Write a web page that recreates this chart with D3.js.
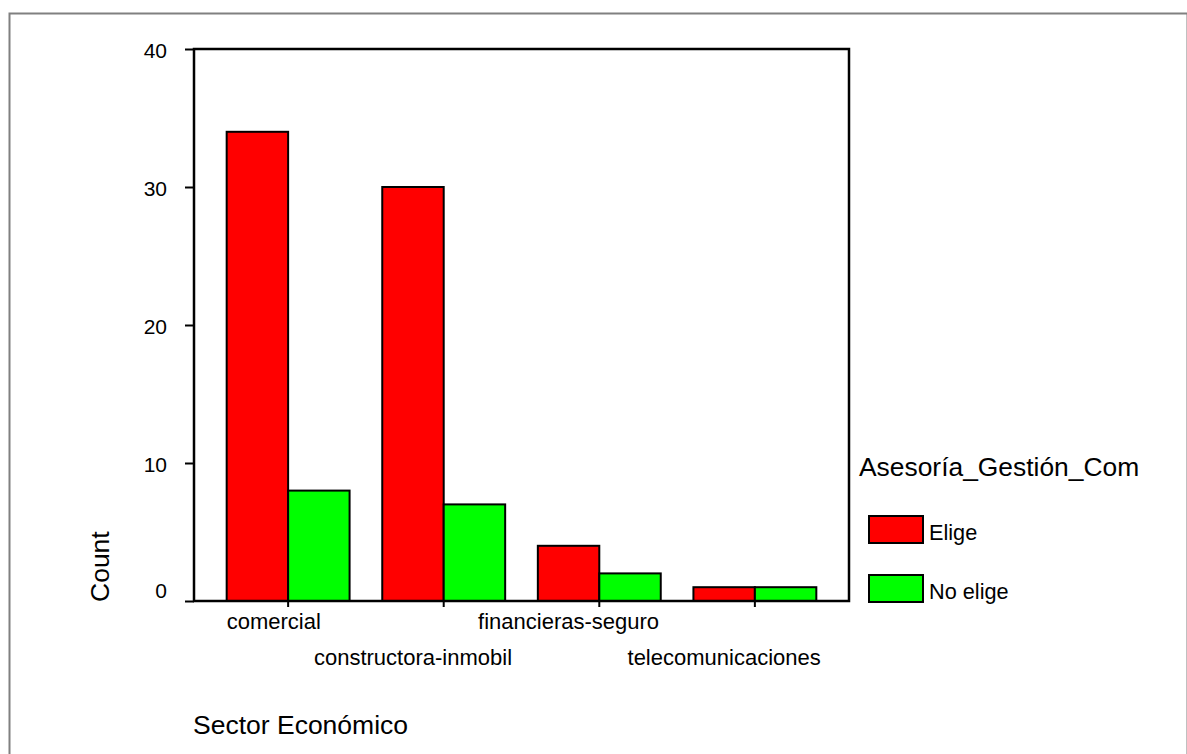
<!DOCTYPE html>
<html>
<head>
<meta charset="utf-8">
<script src="https://cdn.jsdelivr.net/npm/d3@7"></script>
<style>
  html, body { margin: 0; padding: 0; background: #fff; }
  svg { display: block; font-family: Arial, "Liberation Sans", sans-serif; }
</style>
</head>
<body>
<svg id="chart" width="1187" height="754"></svg>
<script>
// Counts of firms by economic sector, split by whether they choose the service
const sectors = ["comercial", "constructora-inmobil", "financieras-seguro", "telecomunicaciones"];
const groups = ["Elige", "No elige"];
const eligeCounts = [34, 30, 4, 1];
const noEligeCounts = [8, 7, 2, 1];
const yTicks = [0, 10, 20, 30, 40];
const colors = ["#ff0000", "#00ff00"];

const svg = d3.select("#chart");

// outer frame
svg.append("rect")
  .attr("x", 9.5).attr("y", 13.5)
  .attr("width", 1178).attr("height", 800)
  .attr("fill", "none").attr("stroke", "#808080").attr("stroke-width", 2);

const plot = { left: 194, right: 849, top: 49, bottom: 601 };

const x = d3.scaleBand()
  .domain(sectors)
  .range([plot.left, plot.right])
  .paddingInner(0.21)
  .paddingOuter(0.21);

const xSub = d3.scaleBand()
  .domain(groups)
  .range([0, x.bandwidth()]);

const y = d3.scaleLinear()
  .domain([0, 40])
  .range([plot.bottom, plot.top]);

const rows = sectors.map((s, i) => ({ sector: s, values: [eligeCounts[i], noEligeCounts[i]] }));

// bars
const g = svg.append("g");
rows.forEach(r => {
  r.values.forEach((v, j) => {
    g.append("rect")
      .attr("x", x(r.sector) + xSub(groups[j]))
      .attr("y", y(v))
      .attr("width", xSub.bandwidth())
      .attr("height", y(0) - y(v))
      .attr("fill", colors[j])
      .attr("stroke", "#000")
      .attr("stroke-width", 2);
  });
});

// plot frame
svg.append("rect")
  .attr("x", plot.left).attr("y", plot.top)
  .attr("width", plot.right - plot.left).attr("height", plot.bottom - plot.top)
  .attr("fill", "none").attr("stroke", "#000").attr("stroke-width", 2.5);

// y axis ticks and labels
const yAxis = d3.axisLeft(y).tickValues(yTicks).tickSize(9).tickPadding(0).tickFormat(d3.format("d"));
const yG = svg.append("g").attr("transform", `translate(${plot.left},0)`).call(yAxis);
yG.select(".domain").remove();
yG.selectAll(".tick line").attr("stroke", "#000").attr("stroke-width", 2);
yG.selectAll(".tick text")
  .attr("x", -27)
  .attr("dy", d => d === 0 ? "-0.15em" : "0.4em")
  .attr("fill", "#000")
  .style("font-size", "21px")
  .style("font-family", "Arial, 'Liberation Sans', sans-serif");

// x axis ticks at the middle of each group
const xAxis = d3.axisBottom(x).tickSize(6).tickFormat("");
const xG = svg.append("g").attr("transform", `translate(0,${plot.bottom})`).call(xAxis);
xG.select(".domain").remove();
xG.selectAll(".tick line").attr("stroke", "#000").attr("stroke-width", 2);

// staggered category labels
const firstStart = x(sectors[0]);
sectors.forEach((s, i) => {
  const t = svg.append("text")
    .attr("y", i % 2 === 0 ? 629 : 665)
    .attr("fill", "#000")
    .style("font-size", "22px")
    .text(s);
  const w = t.node().getComputedTextLength();
  let left = x(s) + x.bandwidth() / 4 - w / 2;
  if (left < firstStart) left = firstStart;
  t.attr("x", left);
});

// axis titles
svg.append("text")
  .attr("x", 193).attr("y", 734)
  .attr("fill", "#000")
  .style("font-size", "26.5px")
  .text("Sector Económico");

svg.append("text")
  .attr("transform", "translate(109,602) rotate(-90)")
  .attr("fill", "#000")
  .style("font-size", "26.5px")
  .text("Count");

// legend
const legend = svg.append("g");
legend.append("text")
  .attr("x", 859).attr("y", 476)
  .attr("fill", "#000")
  .style("font-size", "26.4px")
  .text("Asesoría_Gestión_Com");

groups.forEach((name, j) => {
  const top = 516 + j * 59;
  legend.append("rect")
    .attr("x", 869).attr("y", top)
    .attr("width", 54).attr("height", 27)
    .attr("fill", colors[j]).attr("stroke", "#000").attr("stroke-width", 2);
  legend.append("text")
    .attr("x", 929).attr("y", top + 24)
    .attr("fill", "#000")
    .style("font-size", "21.7px")
    .text(name);
});
</script>
</body>
</html>
